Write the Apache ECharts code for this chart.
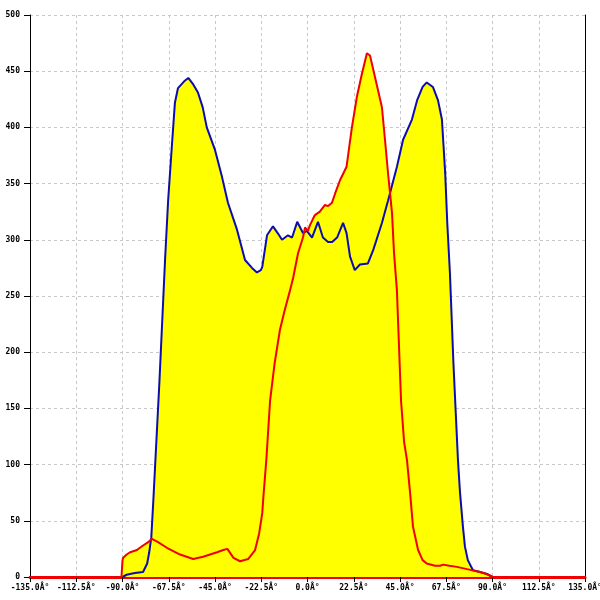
<!DOCTYPE html>
<html>
<head>
<meta charset="utf-8">
<script src="https://cdn.jsdelivr.net/npm/echarts@6/dist/echarts.min.js"></script>
<style>html,body{margin:0;padding:0;background:#fff;}#c{width:600px;height:600px;}</style>
</head>
<body>
<div id="c"></div>
<script>
// Blue curve: [angle (deg), value]
const blueAngles = [-90,-88,-84,-80,-78,-77,-76,-75,-72,-69.3,-67.8,-66,-64.5,-63,-60,-58,-55.5,-53.3,-51,-49,-45,-41.6,-38.7,-34.3,-30.4,-27,-24.6,-22.7,-22,-19.7,-16.8,-14.5,-12.4,-9.5,-7.5,-5,-2.2,-0.3,2.2,5.1,7.5,10,12,14.4,17.3,19,20.7,23,25.5,29.4,32,36.2,39.2,43.5,46.5,50.8,53.3,56,58,61,63.5,65.4,67,68,69.3,71,73.2,74.2,75.6,76.6,78,80.5,84,87,90];
const blueValues = [0,2,3.5,4.5,12,22,35,68,175,282,335,383,422,435,441,444,438,431,418,400,380,356,333,309,282,275,271,273,276,304,312,306,300,304,302,316,306,308,302,316,302,298,298,302,315,306,285,273,278,279,291,315,335,365,389,407,424,436,440,436,424,407,359,315,270,190,104,75,45,27,15,6,4.5,3,0];
// Red curve
const redAngles = [-150,-90.5,-90,-89.7,-88,-86.3,-83,-80,-77.5,-75.7,-72.7,-68.4,-62,-55.6,-50.8,-44,-41,-39,-36,-32.8,-28.9,-25.5,-23.5,-22,-21.6,-20,-18.2,-16,-13.4,-11,-8.5,-7,-4.6,-2.2,-1.2,0.2,1.2,2.5,3.6,6,8.5,10,11.9,13.4,15.8,19,21.6,24,26.5,28.9,30.4,32.8,36.2,37.7,39.2,41.1,42.1,43.5,45.5,47,48.4,49.9,51.3,53.8,56,58,62,64.5,66,69,72.7,77.6,83.9,88,90,150];
const redValues = [0,0,15,17,20,22,24,28,31,34,31,26,20,16,18,22,24,25,17,14,16,24,39,57,68,105,157,190,220,238,255,266,288,302,311,308,313,318,322,325,331,330,333,341,353,365,400,427,448,466,464,445,418,389,359,324,288,255,157,120,104,75,45,24,15,12,10,10,11,10,9,7,4.5,2,0,0];
// Axis ticks
const xTickStep = 22.5, xMin = -135, xMax = 135;
const yTickStep = 50, yMin = 0, yMax = 500;

const blueData = blueAngles.map((a, i) => [a, blueValues[i]]);
const redData = redAngles.map((a, i) => [a, redValues[i]]);

const labelFont = { fontFamily: 'DejaVu Sans Mono', fontSize: 8, fontWeight: 'bold', color: '#000' };

const chart = echarts.init(document.getElementById('c'), null, { renderer: 'canvas' });
chart.setOption({
  animation: false,
  backgroundColor: '#fff',
  grid: { left: 30, right: 15, top: 15, bottom: 23, containLabel: false, outerBoundsMode: 'none' },
  xAxis: {
    type: 'value', min: xMin, max: xMax, interval: xTickStep,
    axisLine: { show: true, onZero: false, lineStyle: { color: '#f00000', width: 3 } },
    axisTick: { show: true, length: 5, lineStyle: { color: '#000' } },
    axisLabel: Object.assign({ margin: 7, formatter: v => v.toFixed(1) + 'Â°', showMinLabel: true, showMaxLabel: true }, labelFont),
    splitLine: { show: true, lineStyle: { color: '#c8c8c8', type: [3, 3], width: 1 } }
  },
  yAxis: [{
    type: 'value', min: yMin, max: yMax, interval: yTickStep, position: 'left',
    axisLine: { show: true, onZero: false, lineStyle: { color: '#000', width: 1 } },
    axisTick: { show: true, length: 6, lineStyle: { color: '#000' } },
    axisLabel: Object.assign({ margin: 10 }, labelFont),
    splitLine: { show: true, lineStyle: { color: '#c8c8c8', type: [3, 3], width: 1 } }
  }, {
    type: 'value', min: yMin, max: yMax, interval: yTickStep, position: 'right',
    axisLine: { show: true, onZero: false, lineStyle: { color: '#000', width: 1 } },
    axisTick: { show: false }, axisLabel: { show: false }, splitLine: { show: false }
  }],
  series: [
    { type: 'line', data: blueData, symbol: 'none', z: 1, lineStyle: { width: 0 }, areaStyle: { color: '#ffff00', opacity: 1 }, silent: true },
    { type: 'line', data: redData, symbol: 'none', z: 1, clip: false, lineStyle: { width: 0 }, areaStyle: { color: '#ffff00', opacity: 1 }, silent: true },
    { type: 'line', data: blueData, symbol: 'none', z: 3, lineStyle: { color: '#0c0cb0', width: 2 } },
    { type: 'line', data: redData, symbol: 'none', z: 4, clip: false, lineStyle: { color: '#f00000', width: 2 } }
  ]
});
</script>
</body>
</html>
